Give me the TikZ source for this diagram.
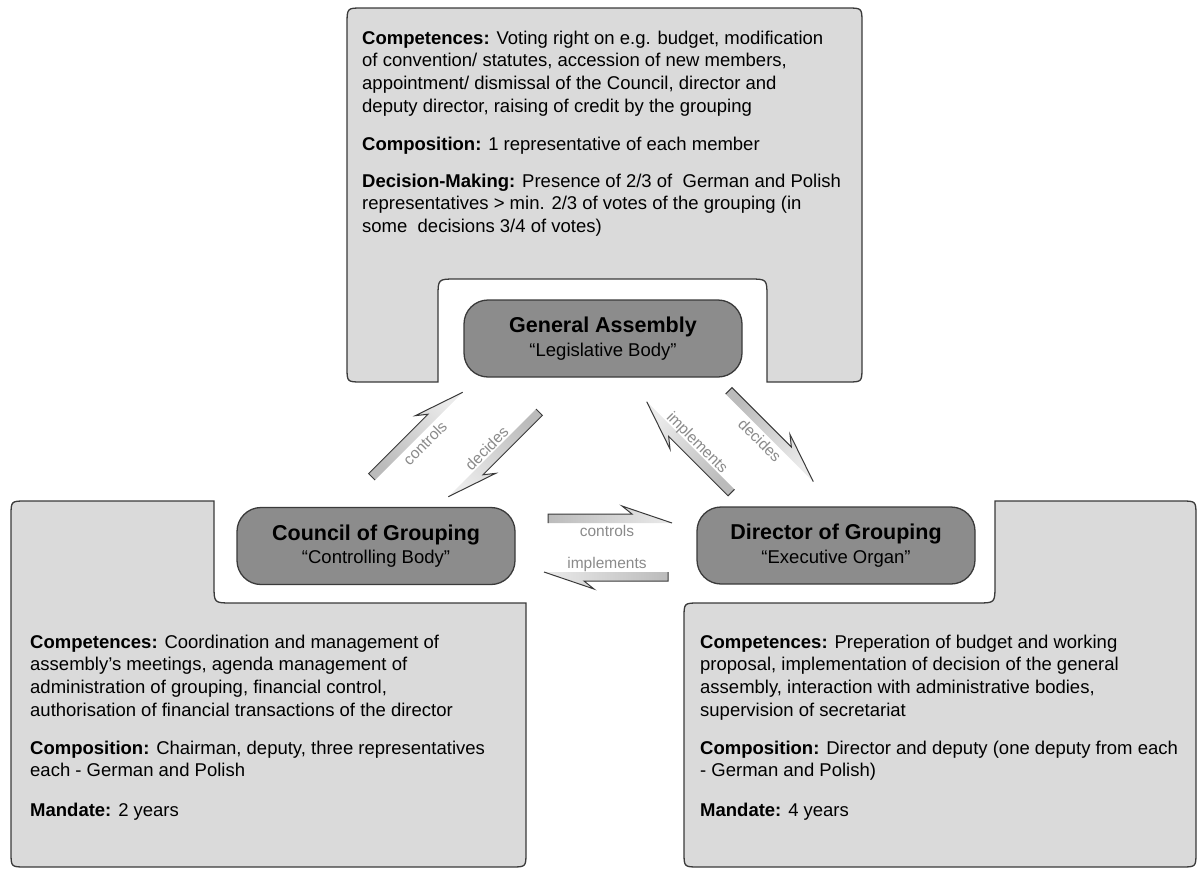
\documentclass[tikz,border=0pt]{standalone}
\usepackage{fontspec}
\setmainfont{Liberation Sans}
\definecolor{boxgray}{HTML}{DADADA}
\definecolor{bodygray}{HTML}{8C8C8C}
\definecolor{edgegray}{HTML}{3A3A3A}
\definecolor{boltgray}{HTML}{BBBBBB}
\definecolor{labelgray}{HTML}{8A8A8A}
\newcommand\boltarrow[3]{%
  \begin{scope}[shift={#1}, rotate=#2]
    \path[boltfill, shading angle=#3] (0,0) -- (124,0) -- (74,-17) -- (84,-9) -- (0,-9) -- cycle;
    \draw[boltedge] (0,0) -- (0,-9) -- (84,-9) -- (74,-17) -- (124,0);
  \end{scope}}
\begin{document}
\begin{tikzpicture}[x=1pt,y=-1pt,
  infobox/.style={fill=boxgray, draw=edgegray, line width=1.3pt},
  body/.style={draw=edgegray, fill=bodygray, line width=1.3pt, rounded corners=24pt,
    minimum width=278pt, minimum height=77pt, align=center, inner sep=0pt,
    font=\fontsize{18.5}{23.5}\selectfont},
  para/.style={anchor=base west, align=left, inner sep=0pt,
    font=\fontsize{18.5}{22.8}\selectfont},
  boltfill/.style={left color=boltgray, right color=boltgray!30},
  boltedge/.style={draw=edgegray, line width=1pt, line join=miter},
  boltlabel/.style={text=labelgray, font=\fontsize{15.5}{16}\selectfont, inner sep=0pt}]
\useasboundingbox (0,0) rectangle (1197,870);

% top box
\path[infobox] (347,25) .. controls (347,8) .. (362,8) -- (847,8) .. controls (862,8) .. (862,23)
  -- (862,367) .. controls (862,382) .. (847,382) -- (767,382) -- (767,297)
  .. controls (767,279) .. (749,279) -- (456,279) .. controls (438,279) .. (438,297)
  -- (438,382) -- (362,382) .. controls (347,382) .. (347,367) -- cycle;
% bottom-left box
\path[infobox] (11,516) .. controls (11,501) .. (26,501) -- (214,501) -- (214,585)
  .. controls (214,603) .. (232,603) -- (526,603) -- (526,852) .. controls (526,867) .. (511,867)
  -- (26,867) .. controls (11,867) .. (11,852) -- cycle;
% bottom-right box
\path[infobox] (684,618) .. controls (684,603) .. (699,603) -- (977,603) .. controls (995,603) .. (995,585)
  -- (995,501) -- (1181,501) .. controls (1196,501) .. (1196,516) -- (1196,852)
  .. controls (1196,867) .. (1181,867) -- (699,867) .. controls (684,867) .. (684,852) -- cycle;

% texts (base anchor = baseline of the last line)
\node[para] (gacomp) at (362,112.4) {\textbf{Competences:} Voting right on e.g. budget, modification\\of convention/ statutes, accession of new members,\\appointment/ dismissal of the Council, director and\\deputy director, raising of credit by the grouping};
\node[para] (gacomposition) at (362,150) {\textbf{Composition:} 1 representative of each member};
\node[para] (gadec) at (362,232.6) {\textbf{Decision-Making:} Presence of 2/3 of \ German and Polish\\representatives > min. 2/3 of votes of the grouping (in\\some \ decisions 3/4 of votes)};

\node[para] (cocomp) at (30,716.4) {\textbf{Competences:} Coordination and management of\\assembly’s meetings, agenda management of\\administration of grouping, financial control,\\authorisation of financial transactions of the director};
\node[para] (cocomposition) at (30,776.8) {\textbf{Composition:} Chairman, deputy, three representatives\\each - German and Polish};
\node[para] (comandate) at (30,816) {\textbf{Mandate:} 2 years};

\node[para] (dicomp) at (700,716.4) {\textbf{Competences:} Preperation of budget and working\\proposal, implementation of decision of the general\\assembly, interaction with administrative bodies,\\supervision of secretariat};
\node[para] (dicomposition) at (700,776.8) {\textbf{Composition:} Director and deputy (one deputy from each\\- German and Polish)};
\node[para] (dimandate) at (700,816) {\textbf{Mandate:} 4 years};

% body nodes
\node[body] (ga) at (603,338.5) {{\fontsize{21.5}{23.5}\selectfont\bfseries General Assembly}\\“Legislative Body”};
\node[body] (council) at (376,546) {{\fontsize{21.5}{23.5}\selectfont\bfseries Council of Grouping}\\“Controlling Body”};
\node[body] (director) at (836,545.5) {{\fontsize{21.5}{23.5}\selectfont\bfseries Director of Grouping}\\“Executive Organ”};

% lightning arrows
\boltarrow{(548,523)}{0}{90}
\boltarrow{(668,572)}{180}{270}
\boltarrow{(375,480)}{45}{135}
\boltarrow{(536,409)}{225}{315}
\boltarrow{(734.4,489.4)}{135}{225}
\boltarrow{(725.6,394)}{-45}{45}

\node[boltlabel] (lcontrolsh) at (607,531) {controls};
\node[boltlabel] (limplementsh) at (607,564) {implements};
\node[boltlabel, rotate=45] (lcontrolsd) at (425,443) {controls};
\node[boltlabel, rotate=45] (ldecidesl) at (486.7,448.3) {decides};
\node[boltlabel, rotate=-45] (limplementsd) at (696.7,443.3) {implements};
\node[boltlabel, rotate=-45] (ldecidesr) at (760,440) {decides};
\end{tikzpicture}
\end{document}
